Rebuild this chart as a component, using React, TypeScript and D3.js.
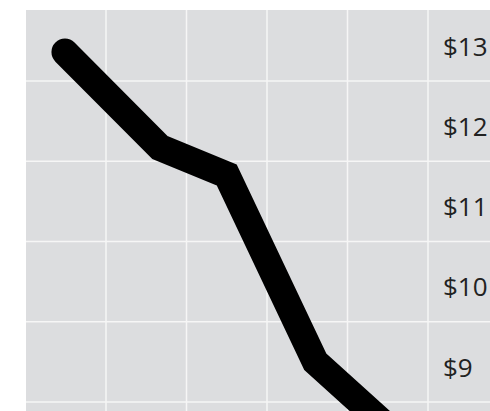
import React from "react";
import * as d3 from "d3";

// x positions are in "period" units: gridlines at integers 1..5
const periods = [0.49, 1.67, 2.5, 3.6, 4.65];
const prices = [13.36, 12.17, 11.83, 9.5, 8.55];
const gridPeriods = [1, 2, 3, 4, 5];
const gridPrices = [13, 12, 11, 10, 9];
const tickLabels = ["$13", "$12", "$11", "$10", "$9"];

const W = 490;
const H = 411;

export default function App() {
  const x = d3.scaleLinear().domain([1, 5]).range([106, 428]);
  const y = d3.scaleLinear().domain([13, 9]).range([81, 402]);
  const data = periods.map((p, i) => [p, prices[i]] as [number, number]);
  const line = d3
    .line<[number, number]>()
    .x((d) => x(d[0]))
    .y((d) => y(d[1]));

  return (
    <svg
      width={W}
      height={H}
      style={{ position: "absolute", left: 0, top: 0, display: "block" }}
    >
      <defs>
        <clipPath id="panel">
          <rect x={26} y={10} width={W - 26} height={H - 10} />
        </clipPath>
      </defs>
      <rect x={26} y={10} width={W - 26} height={H - 10} fill="#dcdddf" />
      <g clipPath="url(#panel)">
        {gridPeriods.map((g) => (
          <line
            key={"v" + g}
            x1={x(g)}
            x2={x(g)}
            y1={10}
            y2={H}
            stroke="#f6f6f6"
            strokeWidth={1.5}
          />
        ))}
        {gridPrices.map((g) => (
          <line
            key={"h" + g}
            x1={26}
            x2={W}
            y1={y(g)}
            y2={y(g)}
            stroke="#f6f6f6"
            strokeWidth={1.5}
          />
        ))}
        <path
          d={line(data) || ""}
          fill="none"
          stroke="#000"
          strokeWidth={27}
          strokeLinecap="round"
          strokeLinejoin="miter"
        />
      </g>
      {gridPrices.map((g, i) => (
        <text
          key={"t" + g}
          x={443}
          y={y(g) - 25.5}
          fontFamily="'Open Sans', sans-serif"
          fontSize={26}
          fill="#222"
        >
          {tickLabels[i]}
        </text>
      ))}
    </svg>
  );
}
